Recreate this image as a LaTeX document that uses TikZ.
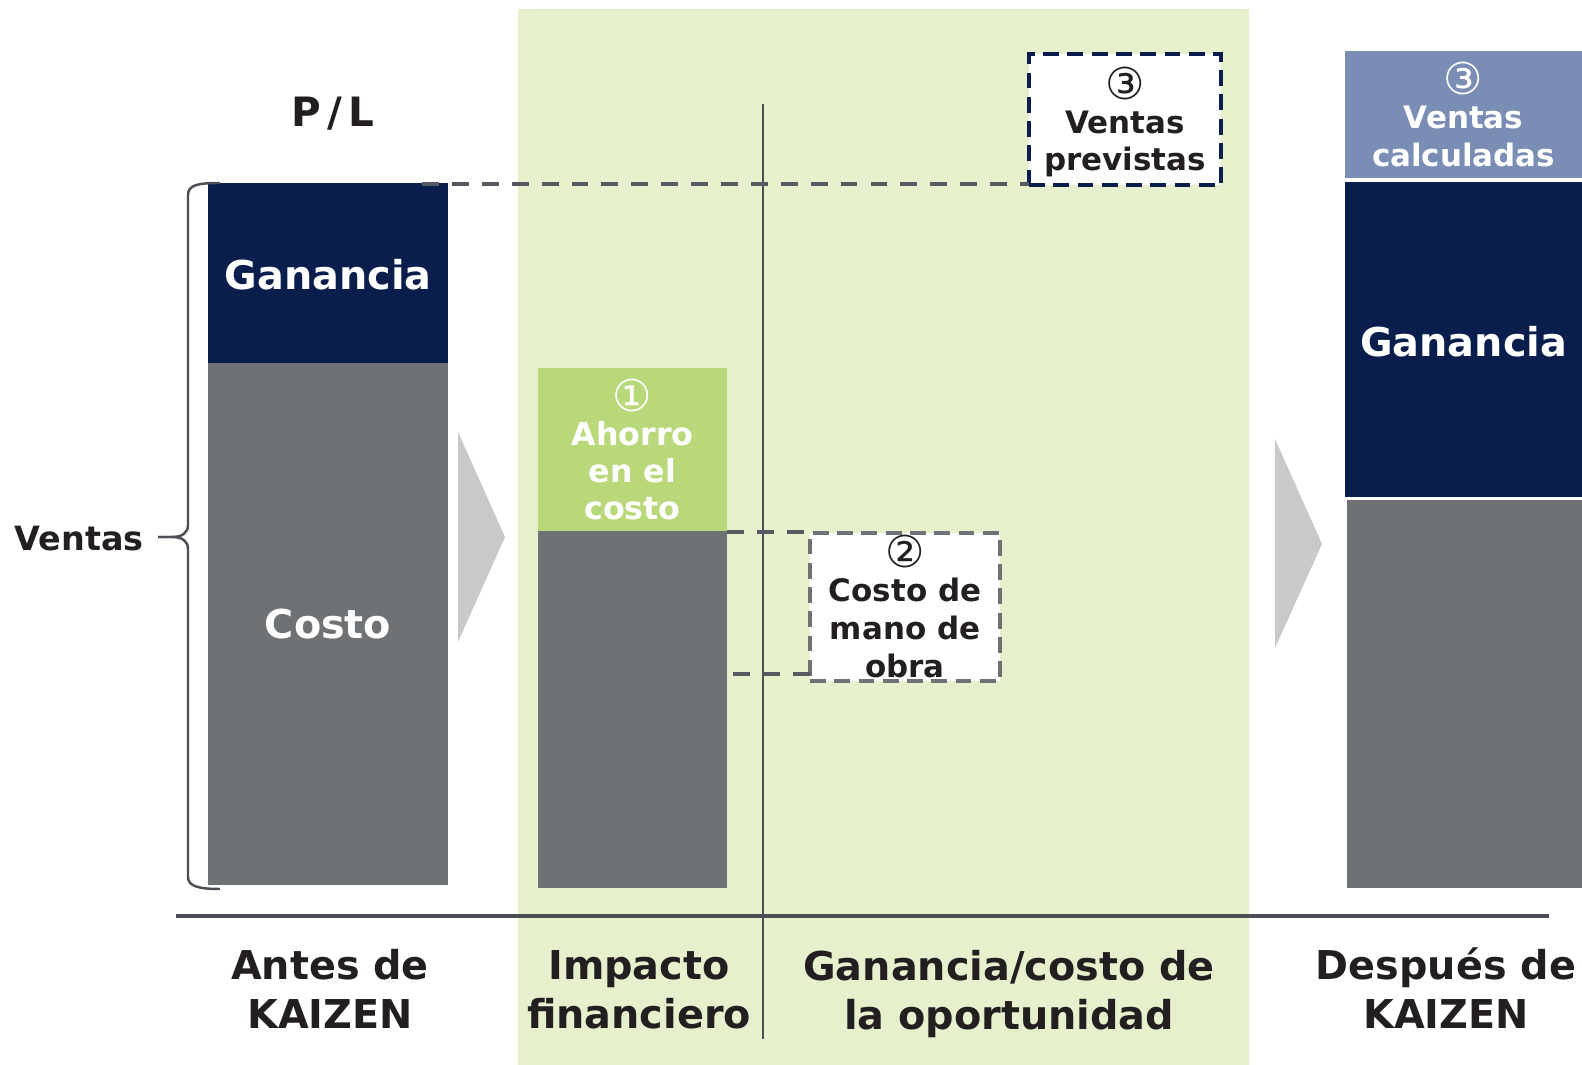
\documentclass[tikz,border=0pt]{standalone}
\usepackage{fontspec}
\setmainfont{DejaVu Sans}
\newfontfamily\circfont{DejaVu Sans}
\definecolor{navy}{RGB}{9,30,76}
\definecolor{costgray}{RGB}{111,114,117}
\definecolor{panelgreen}{RGB}{230,240,205}
\definecolor{savegreen}{RGB}{184,216,122}
\definecolor{calcblue}{RGB}{122,141,180}
\definecolor{arrowgray}{RGB}{200,201,203}
\definecolor{linegray}{RGB}{74,79,85}
\definecolor{dashgray}{RGB}{85,90,96}
\definecolor{inkdark}{RGB}{35,31,32}
\newcommand{\cn}[1]{\vphantom{A}\smash{\raisebox{-0.035cm}{\circfont\mdseries\fontsize{12.5}{10}\selectfont #1}}}
\begin{document}
\begin{tikzpicture}[x=0.01cm,y=-0.01cm,
  boxnode/.style={inner sep=0pt, outer sep=0pt, anchor=north west},
  bigtxt/.style={inner sep=0pt, align=center, font=\bfseries\fontsize{11.3}{13.9}\selectfont},
  midtxt/.style={inner sep=0pt, align=center, font=\bfseries\fontsize{9}{10.5}\selectfont},
  smalltxt/.style={inner sep=0pt, align=center, font=\bfseries\fontsize{8.8}{10.7}\selectfont},
  dline/.style={draw=dashgray, line width=1pt, dash pattern=on 4.8pt off 3.7pt},
  thinline/.style={draw=linegray, line width=0.6pt}
]
\useasboundingbox (0,0) rectangle (1582,1065);
\clip (0,0) rectangle (1582,1065);
\fill[white] (0,0) rectangle (1582,1065);
% green panel
\fill[panelgreen] (518,9) rectangle (1249,1065);

% divider and axis
\coordinate (vtop) at (763,104);
\coordinate (vbot) at (763,1039);
\draw[thinline] (vtop) -- (vbot);
\coordinate (axl) at (176,916);
\coordinate (axr) at (1549,916);
\draw[draw=linegray, line width=1pt] (axl) -- (axr);

% before KAIZEN
\node[boxnode, fill=navy, minimum width=2.40cm, minimum height=1.80cm] (gan1) at (208,183) {};
\node[boxnode, fill=costgray, minimum width=2.40cm, minimum height=5.22cm] (cost1) at (208,363) {};
\node[bigtxt, text=white] (gan1t) at ([yshift=-0.02cm]gan1.center) {Ganancia};
\node[bigtxt, text=white] (cost1t) at (cost1.center) {Costo};
\node[inner sep=0pt, text=inkdark, font=\bfseries\fontsize{11.5}{13}\selectfont] (pl) at (333,114) {P\kern1.7pt/\kern1.7pt L};

% brace
\draw[draw=linegray, line width=0.7pt]
  (220,183) .. controls (198,183) and (188,185) .. (188,195) -- (188,525)
  .. controls (188,533) and (182,537) .. (172,537) -- (158,537);
\draw[draw=linegray, line width=0.7pt]
  (158,537) -- (172,537) .. controls (182,537) and (188,541) .. (188,549)
  -- (188,877) .. controls (188,886) and (198,889) .. (220,889);
\node[inner sep=0pt, text=inkdark, font=\bfseries\fontsize{9.5}{11}\selectfont] (ventas) at (79,539) {Ventas};

% arrows
\fill[arrowgray] (458,432) -- (505,537) -- (458,642) -- cycle;
\fill[arrowgray] (1275,439) -- (1322,544) -- (1275,648) -- cycle;

% financial impact
\node[boxnode, fill=savegreen, minimum width=1.89cm, minimum height=1.63cm] (ahorro) at (538,368) {};
\node[boxnode, fill=costgray, minimum width=1.89cm, minimum height=3.57cm] (cost2) at (538,531) {};
\node[midtxt, text=white] (ahorrot) at ([yshift=-0.03cm]ahorro.center) {\cn{①}\\Ahorro\\en el\\costo};

% box 2
\node[boxnode, fill=white, draw=costgray, line width=1.1pt, dash pattern=on 4.5pt off 2.4pt, minimum width=1.90cm, minimum height=1.48cm] (box2) at (810,533) {};
\node[smalltxt, text=inkdark] (box2t) at ([yshift=-0.027cm]box2.center) {\cn{②}\\Costo de\\mano de\\obra};

% box 3
\node[boxnode, fill=white, draw=navy, line width=1.2pt, dash pattern=on 4.5pt off 2.4pt, minimum width=1.92cm, minimum height=1.31cm] (box3) at (1029,54) {};
\node[smalltxt, text=inkdark, font=\bfseries\fontsize{8.8}{10.5}\selectfont] (box3t) at ([yshift=-0.055cm]box3.center) {\cn{③}\\Ventas\\previstas};

% dashed connectors
\draw[dline] ([xshift=-0.26cm,yshift=-0.01cm]gan1.north east) -- ([yshift=-0.01cm]gan1.north east -| box3.west);
\draw[dline] ([yshift=-0.01cm]cost2.north east) -- ([yshift=-0.01cm]cost2.north east -| box2.west);
\coordinate (b2low) at ([yshift=0.07cm]box2.south west);
\draw[dline] (b2low) -- (b2low -| cost2.east);

% after KAIZEN
\node[boxnode, fill=calcblue, minimum width=2.37cm, minimum height=1.27cm] (calc) at (1345,51) {};
\node[smalltxt, text=white] (calct) at ([yshift=-0.033cm]calc.center) {\cn{③}\\Ventas\\calculadas};
\node[boxnode, fill=navy, minimum width=2.37cm, minimum height=3.15cm] (gan3) at (1345,182) {};
\node[bigtxt, text=white] (gan3t) at ([yshift=-0.02cm]gan3.center) {Ganancia};
\node[boxnode, fill=costgray, minimum width=2.35cm, minimum height=3.88cm] (cost3) at (1347,500) {};

% bottom labels
\node[bigtxt, text=inkdark] (lab1) at (330,989) {Antes de\\KAIZEN};
\node[bigtxt, text=inkdark] (lab2) at (639,990) {Impacto\\financiero};
\node[bigtxt, text=inkdark] (lab3) at (1009,994) {Ganancia/costo de\\la oportunidad};
\node[bigtxt, text=inkdark] (lab4) at (1446,988) {Después de\\KAIZEN};
\end{tikzpicture}
\end{document}
